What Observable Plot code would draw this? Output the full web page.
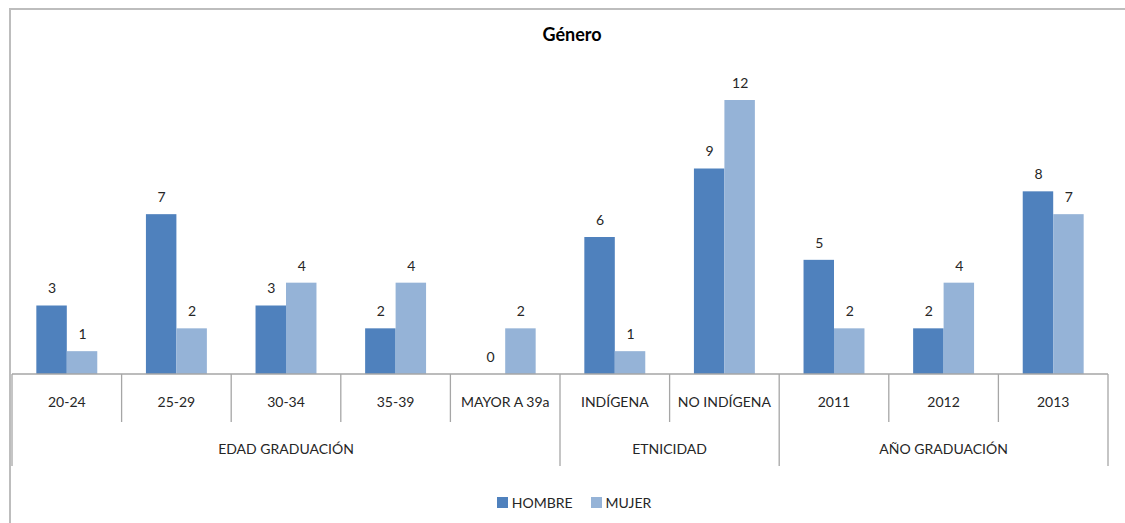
<!DOCTYPE html>
<html>
<head>
<meta charset="utf-8">
<script src="https://cdn.jsdelivr.net/npm/d3@7"></script>
<script src="https://cdn.jsdelivr.net/npm/@observablehq/plot@0.6"></script>
<style>
  body { margin: 0; background: #fff; font-family: Lato, "Open Sans", sans-serif; }
  #frame { position: absolute; left: 9px; top: 8px; width: 1200px; height: 600px;
           border-top: 2px solid #bdbdbd; border-left: 2px solid #bdbdbd; }
  #title { position: absolute; left: 0; top: 23px; width: 1144px; text-align: center;
           font: bold 18px Lato, "Open Sans", sans-serif; color: #000; }
  #chart { position: absolute; left: 0; top: 50px; }
  #legend { position: absolute; left: 0; top: 494px; width: 1148px; display: flex;
            justify-content: center; gap: 18px; font: 14px Lato, "Open Sans", sans-serif; color: #262626; }
  .item { display: flex; align-items: center; gap: 4px; }
  .sw { width: 11px; height: 11px; display: inline-block; }
</style>
</head>
<body>
<div id="frame"></div>
<div id="title"></div>
<div id="chart"></div>
<div id="legend"></div>
<script>
const title = "Género";
const categories = ["20-24", "25-29", "30-34", "35-39", "MAYOR A 39a", "INDÍGENA", "NO INDÍGENA", "2011", "2012", "2013"];
const groups = ["EDAD GRADUACIÓN", "ETNICIDAD", "AÑO GRADUACIÓN"];
const groupSizes = [5, 2, 3];
const series = ["HOMBRE", "MUJER"];
const hombre = [3, 7, 3, 2, 0, 6, 9, 5, 2, 8];
const mujer = [1, 2, 4, 4, 2, 1, 12, 2, 4, 7];
const colors = ["#4F81BD", "#95B3D7"];

const values = [hombre, mujer];
const rows = [];
series.forEach((s, si) => categories.forEach((c, ci) => rows.push({category: c, series: s, value: values[si][ci]})));

const W = 1125, H = 430, mL = 12, mR = 17, mT = 50, mB = 106;
const step = (W - mL - mR) / categories.length;
const barW = step * 0.278;
const font = "Lato, 'Open Sans', sans-serif";

document.getElementById("title").textContent = title;

const axisMark = (index, scales, vals, dims) => {
  const x = scales && scales.x;
  const n = categories.length;
  const edge = i => {
    if (x) return i < n ? x(categories[i]) : x(categories[n - 1]) + step;
    return mL + i * step;
  };
  const y0 = (dims ? dims.height - dims.marginBottom : H - mB);
  const g = d3.create("svg:g").attr("stroke", "#a6a6a6").attr("stroke-width", 1.3);
  g.append("line").attr("x1", edge(0)).attr("x2", edge(n)).attr("y1", y0).attr("y2", y0);
  const bounds = [0];
  groupSizes.forEach(s => bounds.push(bounds[bounds.length - 1] + s));
  for (let i = 0; i <= n; i++) {
    const isGroup = bounds.includes(i);
    g.append("line").attr("x1", edge(i)).attr("x2", edge(i))
      .attr("y1", y0).attr("y2", y0 + (isGroup ? 92 : 48));
  }
  const t = g.append("g").attr("stroke", "none").attr("fill", "#262626")
    .attr("font-family", font).attr("font-size", 14).attr("text-anchor", "middle")
    .attr("dominant-baseline", "central");
  categories.forEach((c, i) => {
    t.append("text").attr("x", (edge(i) + edge(i + 1)) / 2).attr("y", y0 + 27).text(c);
  });
  groups.forEach((gname, gi) => {
    t.append("text").attr("x", (edge(bounds[gi]) + edge(bounds[gi + 1])) / 2).attr("y", y0 + 74).text(gname);
  });
  return g.node();
};

const marks = [];
series.forEach((s, si) => {
  const data = rows.filter(d => d.series === s);
  marks.push(Plot.barY(data, {
    x: "category", y: "value", fill: colors[si],
    insetLeft: si === 0 ? step / 2 - barW : step / 2,
    insetRight: si === 0 ? step / 2 : step / 2 - barW
  }));
  marks.push(Plot.text(data, {
    x: "category", y: "value", text: d => String(d.value),
    dx: si === 0 ? -barW / 2 : barW / 2, dy: -17,
    fontSize: 14, fill: "#262626", fontFamily: font
  }));
});
marks.push(axisMark);

const chart = Plot.plot({
  width: W, height: H,
  marginLeft: mL, marginRight: mR, marginTop: mT, marginBottom: mB,
  style: {fontFamily: font, background: "transparent", overflow: "visible"},
  x: {type: "band", domain: categories, paddingInner: 0, paddingOuter: 0, round: false, axis: null},
  y: {domain: [0, 12], axis: null},
  marks
});
document.getElementById("chart").appendChild(chart);

const legend = document.getElementById("legend");
series.forEach((s, si) => {
  const item = document.createElement("div");
  item.className = "item";
  const sw = document.createElement("span");
  sw.className = "sw";
  sw.style.background = colors[si];
  const lab = document.createElement("span");
  lab.textContent = s;
  item.appendChild(sw);
  item.appendChild(lab);
  legend.appendChild(item);
});
</script>
</body>
</html>
